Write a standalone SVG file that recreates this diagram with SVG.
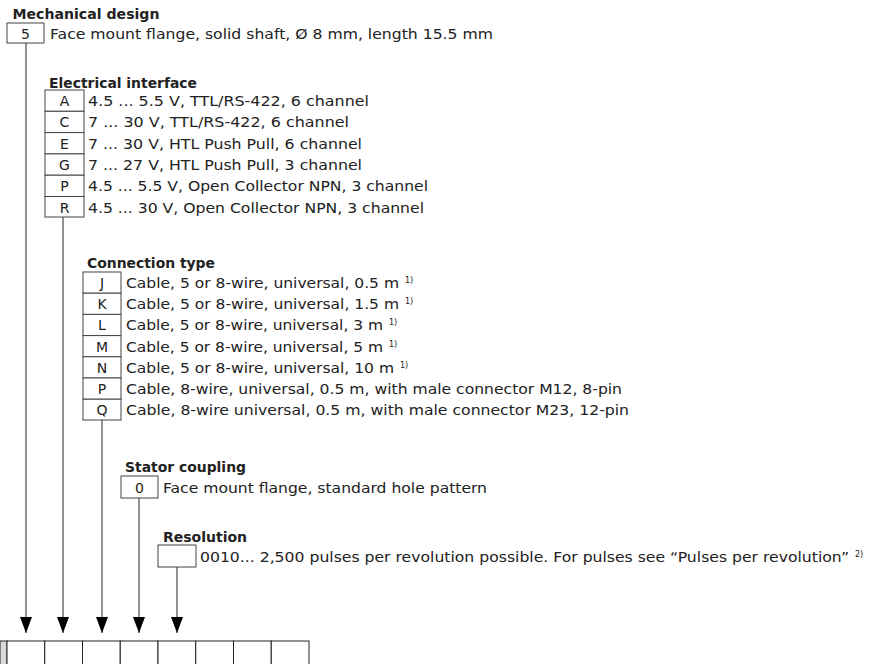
<svg xmlns="http://www.w3.org/2000/svg" width="876" height="664" viewBox="0 0 876 664">
<style>
text{font-family:"DejaVu Sans","Liberation Sans",Arial,sans-serif;fill:#222}
.h{font-size:14px;font-weight:bold}
.t{font-size:14px}
.c{font-size:14px;text-anchor:middle}
.s{font-size:8px}
.box{fill:#fff;stroke:#444;stroke-width:1}
.ln{stroke:#555;stroke-width:1.3;fill:none}
.cell{fill:#fff;stroke:#222;stroke-width:1}
</style>
<defs>
<marker id="arr" viewBox="0 0 16 12" refX="16" refY="6" markerWidth="16" markerHeight="12" markerUnits="userSpaceOnUse" orient="auto">
<path d="M0,0 L16,6 L0,12 Z" fill="#000"/>
</marker>
</defs>
<rect width="876" height="664" fill="#fff"/>

<g id="connectors">
<line class="ln" x1="26" y1="43" x2="26" y2="633" marker-end="url(#arr)"/>
<line class="ln" x1="63" y1="217" x2="63" y2="633" marker-end="url(#arr)"/>
<line class="ln" x1="102" y1="420" x2="102" y2="633" marker-end="url(#arr)"/>
<line class="ln" x1="139" y1="498" x2="139" y2="633" marker-end="url(#arr)"/>
<line class="ln" x1="177" y1="567" x2="177" y2="633" marker-end="url(#arr)"/>
</g>

<g id="mechanical">
<text class="h" x="12.5" y="19" textLength="147" lengthAdjust="spacingAndGlyphs">Mechanical design</text>
<rect class="box" x="7" y="23" width="37" height="20"/>
<text class="c" x="25.5" y="38.5">5</text>
<text class="t" x="50" y="38.5" textLength="443" lengthAdjust="spacingAndGlyphs">Face mount flange, solid shaft, Ø 8 mm, length 15.5 mm</text>
</g>

<g id="electrical">
<text class="h" x="49" y="88" textLength="148" lengthAdjust="spacingAndGlyphs">Electrical interface</text>
<rect class="box" x="45" y="90" width="39" height="21.3"/>
<rect class="box" x="45" y="111.3" width="39" height="21.3"/>
<rect class="box" x="45" y="132.6" width="39" height="21.3"/>
<rect class="box" x="45" y="153.9" width="39" height="21.3"/>
<rect class="box" x="45" y="175.2" width="39" height="21.3"/>
<rect class="box" x="45" y="196.5" width="39" height="20.5"/>
<text class="c" x="64.5" y="106">A</text>
<text class="c" x="64.5" y="127.3">C</text>
<text class="c" x="64.5" y="148.6">E</text>
<text class="c" x="64.5" y="169.9">G</text>
<text class="c" x="64.5" y="191.2">P</text>
<text class="c" x="64.5" y="212.5">R</text>
<text class="t" x="88" y="106" textLength="281" lengthAdjust="spacingAndGlyphs">4.5 ... 5.5 V, TTL/RS-422, 6 channel</text>
<text class="t" x="88" y="127.3" textLength="261" lengthAdjust="spacingAndGlyphs">7 ... 30 V, TTL/RS-422, 6 channel</text>
<text class="t" x="88" y="148.6" textLength="274" lengthAdjust="spacingAndGlyphs">7 ... 30 V, HTL Push Pull, 6 channel</text>
<text class="t" x="88" y="169.9" textLength="274" lengthAdjust="spacingAndGlyphs">7 ... 27 V, HTL Push Pull, 3 channel</text>
<text class="t" x="88" y="191.2" textLength="340" lengthAdjust="spacingAndGlyphs">4.5 ... 5.5 V, Open Collector NPN, 3 channel</text>
<text class="t" x="88" y="212.5" textLength="336" lengthAdjust="spacingAndGlyphs">4.5 ... 30 V, Open Collector NPN, 3 channel</text>
</g>

<g id="connection">
<text class="h" x="87" y="268" textLength="128" lengthAdjust="spacingAndGlyphs">Connection type</text>
<rect class="box" x="83" y="272" width="38" height="21.2"/>
<rect class="box" x="83" y="293.2" width="38" height="21.2"/>
<rect class="box" x="83" y="314.4" width="38" height="21.2"/>
<rect class="box" x="83" y="335.6" width="38" height="21.2"/>
<rect class="box" x="83" y="356.8" width="38" height="21.2"/>
<rect class="box" x="83" y="378" width="38" height="21.2"/>
<rect class="box" x="83" y="399.2" width="38" height="20.8"/>
<text class="c" x="102" y="288">J</text>
<text class="c" x="102" y="309.2">K</text>
<text class="c" x="102" y="330.4">L</text>
<text class="c" x="102" y="351.6">M</text>
<text class="c" x="102" y="372.8">N</text>
<text class="c" x="102" y="394">P</text>
<text class="c" x="102" y="415.2">Q</text>
<text class="t" x="126" y="288" textLength="273" lengthAdjust="spacingAndGlyphs">Cable, 5 or 8-wire, universal, 0.5 m</text>
<text class="s" x="405" y="283">1)</text>
<text class="t" x="126" y="309.2" textLength="273" lengthAdjust="spacingAndGlyphs">Cable, 5 or 8-wire, universal, 1.5 m</text>
<text class="s" x="405" y="304.2">1)</text>
<text class="t" x="126" y="330.4" textLength="257" lengthAdjust="spacingAndGlyphs">Cable, 5 or 8-wire, universal, 3 m</text>
<text class="s" x="389" y="325.4">1)</text>
<text class="t" x="126" y="351.6" textLength="257" lengthAdjust="spacingAndGlyphs">Cable, 5 or 8-wire, universal, 5 m</text>
<text class="s" x="389" y="346.6">1)</text>
<text class="t" x="126" y="372.8" textLength="268" lengthAdjust="spacingAndGlyphs">Cable, 5 or 8-wire, universal, 10 m</text>
<text class="s" x="400" y="367.8">1)</text>
<text class="t" x="126" y="394" textLength="496" lengthAdjust="spacingAndGlyphs">Cable, 8-wire, universal, 0.5 m, with male connector M12, 8-pin</text>
<text class="t" x="126" y="415.2" textLength="503" lengthAdjust="spacingAndGlyphs">Cable, 8-wire universal, 0.5 m, with male connector M23, 12-pin</text>
</g>

<g id="stator">
<text class="h" x="125" y="472" textLength="121" lengthAdjust="spacingAndGlyphs">Stator coupling</text>
<rect class="box" x="121" y="476" width="37" height="22"/>
<text class="c" x="139.5" y="493">0</text>
<text class="t" x="163" y="493" textLength="324" lengthAdjust="spacingAndGlyphs">Face mount flange, standard hole pattern</text>
</g>

<g id="resolution">
<text class="h" x="163" y="542" textLength="84" lengthAdjust="spacingAndGlyphs">Resolution</text>
<rect class="box" x="158" y="545" width="38" height="22"/>
<text class="t" x="200" y="562" textLength="649" lengthAdjust="spacingAndGlyphs">0010... 2,500 pulses per revolution possible. For pulses see “Pulses per revolution”</text>
<text class="s" x="855" y="557">2)</text>
</g>

<g id="typecode">
<rect x="0" y="641" width="7" height="30" fill="#d9d9d9" stroke="#222"/>
<rect class="cell" x="7" y="641" width="37.75" height="30"/>
<rect class="cell" x="44.75" y="641" width="37.75" height="30"/>
<rect class="cell" x="82.5" y="641" width="37.75" height="30"/>
<rect class="cell" x="120.25" y="641" width="37.75" height="30"/>
<rect class="cell" x="158" y="641" width="37.75" height="30"/>
<rect class="cell" x="195.75" y="641" width="37.75" height="30"/>
<rect class="cell" x="233.5" y="641" width="37.75" height="30"/>
<rect class="cell" x="271.25" y="641" width="37.75" height="30"/>
</g>
</svg>
